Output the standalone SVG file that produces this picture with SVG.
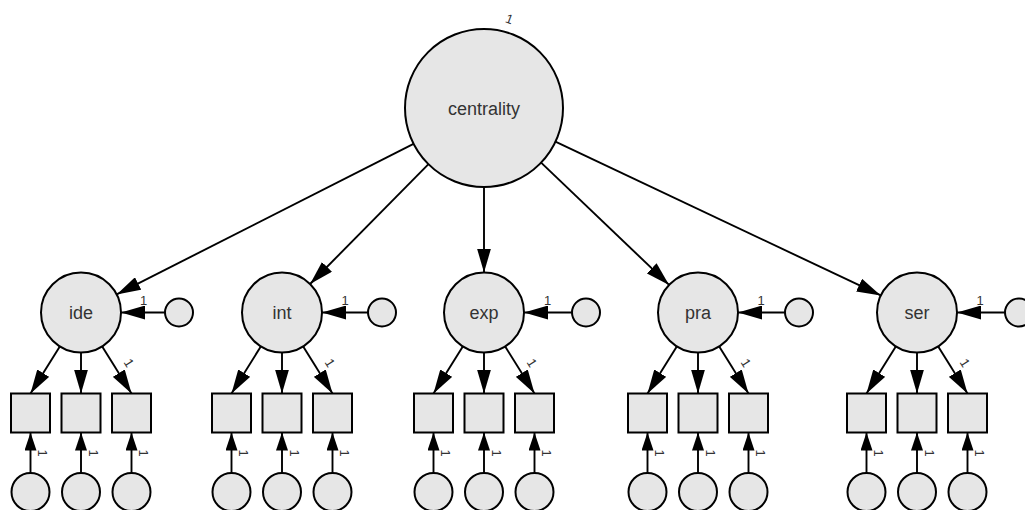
<svg xmlns="http://www.w3.org/2000/svg" width="1025" height="510" viewBox="0 0 1025 510">
<style>
.n{fill:#e6e6e6;stroke:#000;stroke-width:2}
.e{stroke:#000;stroke-width:1.9;fill:none}
.big{marker-end:url(#ah)}
.sm{marker-end:url(#as)}
.lbl{font-family:"Liberation Sans",Arial,sans-serif;font-size:18px;fill:#333;text-anchor:middle}
.one{font-family:"Liberation Sans",Arial,sans-serif;font-size:13px;fill:#333;text-anchor:middle}
</style>
<defs>
<marker id="ah" markerUnits="userSpaceOnUse" orient="auto" markerWidth="24" markerHeight="14" refX="24" refY="7" viewBox="0 0 24 14"><path d="M0,0 L24,7 L0,14 Z" fill="#000"/></marker>
<marker id="as" markerUnits="userSpaceOnUse" orient="auto" markerWidth="18" markerHeight="12" refX="18" refY="6" viewBox="0 0 18 12"><path d="M0,0 L18,6 L0,12 Z" fill="#000"/></marker>
</defs>
<rect width="1025" height="510" fill="#fff"/>
<g id="connectors">
<line class="e big" x1="413.5" y1="143.8" x2="116.7" y2="294.4"/>
<line class="e big" x1="428.5" y1="164.2" x2="310.1" y2="284.0"/>
<line class="e big" x1="484" y1="187" x2="484" y2="272.5"/>
<line class="e big" x1="541.1" y1="162.6" x2="669.1" y2="284.9"/>
<line class="e big" x1="555.4" y1="141.7" x2="880.8" y2="295.4"/>
<line class="e big" x1="165" y1="312.5" x2="121" y2="312.5"/>
<line class="e big" x1="368" y1="312.5" x2="322" y2="312.5"/>
<line class="e big" x1="572" y1="312.5" x2="524" y2="312.5"/>
<line class="e big" x1="785" y1="312.5" x2="738" y2="312.5"/>
<line class="e big" x1="1005" y1="312.5" x2="957" y2="312.5"/>
<line class="e big" x1="59.8" y1="346.5" x2="30.5" y2="393.5"/>
<line class="e big" x1="81" y1="352.5" x2="81" y2="393.5"/>
<line class="e big" x1="102.2" y1="346.5" x2="131.5" y2="393.5"/>
<line class="e big" x1="260.8" y1="346.5" x2="231.5" y2="393.5"/>
<line class="e big" x1="282" y1="352.5" x2="282" y2="393.5"/>
<line class="e big" x1="303.2" y1="346.5" x2="332.5" y2="393.5"/>
<line class="e big" x1="462.8" y1="346.5" x2="433.5" y2="393.5"/>
<line class="e big" x1="484" y1="352.5" x2="484" y2="393.5"/>
<line class="e big" x1="505.2" y1="346.5" x2="534.5" y2="393.5"/>
<line class="e big" x1="676.8" y1="346.5" x2="647.5" y2="393.5"/>
<line class="e big" x1="698" y1="352.5" x2="698" y2="393.5"/>
<line class="e big" x1="719.2" y1="346.5" x2="748.5" y2="393.5"/>
<line class="e big" x1="895.8" y1="346.5" x2="866.5" y2="393.5"/>
<line class="e big" x1="917" y1="352.5" x2="917" y2="393.5"/>
<line class="e big" x1="938.2" y1="346.5" x2="967.5" y2="393.5"/>
<line class="e sm" x1="30.5" y1="473" x2="30.5" y2="432.5"/>
<line class="e sm" x1="81" y1="473" x2="81" y2="432.5"/>
<line class="e sm" x1="131.5" y1="473" x2="131.5" y2="432.5"/>
<line class="e sm" x1="231.5" y1="473" x2="231.5" y2="432.5"/>
<line class="e sm" x1="282" y1="473" x2="282" y2="432.5"/>
<line class="e sm" x1="332.5" y1="473" x2="332.5" y2="432.5"/>
<line class="e sm" x1="433.5" y1="473" x2="433.5" y2="432.5"/>
<line class="e sm" x1="484" y1="473" x2="484" y2="432.5"/>
<line class="e sm" x1="534.5" y1="473" x2="534.5" y2="432.5"/>
<line class="e sm" x1="647.5" y1="473" x2="647.5" y2="432.5"/>
<line class="e sm" x1="698" y1="473" x2="698" y2="432.5"/>
<line class="e sm" x1="748.5" y1="473" x2="748.5" y2="432.5"/>
<line class="e sm" x1="866.5" y1="473" x2="866.5" y2="432.5"/>
<line class="e sm" x1="917" y1="473" x2="917" y2="432.5"/>
<line class="e sm" x1="967.5" y1="473" x2="967.5" y2="432.5"/>
<text class="one" transform="translate(509.5,19) rotate(20)" y="4.5">1</text>
<text class="one" x="143.5" y="305">1</text>
<text class="one" x="345" y="305">1</text>
<text class="one" x="547.5" y="305">1</text>
<text class="one" x="761" y="305">1</text>
<text class="one" x="980" y="305">1</text>
<text class="one" transform="translate(129,363) rotate(58)" y="4.5">1</text>
<text class="one" transform="translate(330,363) rotate(58)" y="4.5">1</text>
<text class="one" transform="translate(532,363) rotate(58)" y="4.5">1</text>
<text class="one" transform="translate(746,363) rotate(58)" y="4.5">1</text>
<text class="one" transform="translate(965,363) rotate(58)" y="4.5">1</text>
<text class="one" transform="translate(42.5,453) rotate(90)" y="4.5">1</text>
<text class="one" transform="translate(93,453) rotate(90)" y="4.5">1</text>
<text class="one" transform="translate(143.5,453) rotate(90)" y="4.5">1</text>
<text class="one" transform="translate(243.5,453) rotate(90)" y="4.5">1</text>
<text class="one" transform="translate(294,453) rotate(90)" y="4.5">1</text>
<text class="one" transform="translate(344.5,453) rotate(90)" y="4.5">1</text>
<text class="one" transform="translate(445.5,453) rotate(90)" y="4.5">1</text>
<text class="one" transform="translate(496,453) rotate(90)" y="4.5">1</text>
<text class="one" transform="translate(546.5,453) rotate(90)" y="4.5">1</text>
<text class="one" transform="translate(659.5,453) rotate(90)" y="4.5">1</text>
<text class="one" transform="translate(710,453) rotate(90)" y="4.5">1</text>
<text class="one" transform="translate(760.5,453) rotate(90)" y="4.5">1</text>
<text class="one" transform="translate(878.5,453) rotate(90)" y="4.5">1</text>
<text class="one" transform="translate(929,453) rotate(90)" y="4.5">1</text>
<text class="one" transform="translate(979.5,453) rotate(90)" y="4.5">1</text>
</g>
<g id="centrality"><circle class="n" cx="484" cy="108" r="79"/><text class="lbl" x="484" y="114.5">centrality</text></g>
<g id="ide"><circle class="n" cx="81" cy="312.5" r="40"/><text class="lbl" x="81" y="319">ide</text></g>
<g id="int"><circle class="n" cx="282" cy="312.5" r="40"/><text class="lbl" x="282" y="319">int</text></g>
<g id="exp"><circle class="n" cx="484" cy="312.5" r="40"/><text class="lbl" x="484" y="319">exp</text></g>
<g id="pra"><circle class="n" cx="698" cy="312.5" r="40"/><text class="lbl" x="698" y="319">pra</text></g>
<g id="ser"><circle class="n" cx="917" cy="312.5" r="40"/><text class="lbl" x="917" y="319">ser</text></g>
<g id="ide_err"><circle class="n" cx="179" cy="312.5" r="14"/></g>
<g id="int_err"><circle class="n" cx="382" cy="312.5" r="14"/></g>
<g id="exp_err"><circle class="n" cx="586" cy="312.5" r="14"/></g>
<g id="pra_err"><circle class="n" cx="799" cy="312.5" r="14"/></g>
<g id="ser_err"><circle class="n" cx="1019" cy="312.5" r="14"/></g>
<g id="ide1"><rect class="n" x="11" y="393.5" width="39" height="39"/></g>
<g id="ide2"><rect class="n" x="61.5" y="393.5" width="39" height="39"/></g>
<g id="ide3"><rect class="n" x="112" y="393.5" width="39" height="39"/></g>
<g id="int1"><rect class="n" x="212" y="393.5" width="39" height="39"/></g>
<g id="int2"><rect class="n" x="262.5" y="393.5" width="39" height="39"/></g>
<g id="int3"><rect class="n" x="313" y="393.5" width="39" height="39"/></g>
<g id="exp1"><rect class="n" x="414" y="393.5" width="39" height="39"/></g>
<g id="exp2"><rect class="n" x="464.5" y="393.5" width="39" height="39"/></g>
<g id="exp3"><rect class="n" x="515" y="393.5" width="39" height="39"/></g>
<g id="pra1"><rect class="n" x="628" y="393.5" width="39" height="39"/></g>
<g id="pra2"><rect class="n" x="678.5" y="393.5" width="39" height="39"/></g>
<g id="pra3"><rect class="n" x="729" y="393.5" width="39" height="39"/></g>
<g id="ser1"><rect class="n" x="847" y="393.5" width="39" height="39"/></g>
<g id="ser2"><rect class="n" x="897.5" y="393.5" width="39" height="39"/></g>
<g id="ser3"><rect class="n" x="948" y="393.5" width="39" height="39"/></g>
<g id="ide1_err"><circle class="n" cx="30.5" cy="492" r="19"/></g>
<g id="ide2_err"><circle class="n" cx="81" cy="492" r="19"/></g>
<g id="ide3_err"><circle class="n" cx="131.5" cy="492" r="19"/></g>
<g id="int1_err"><circle class="n" cx="231.5" cy="492" r="19"/></g>
<g id="int2_err"><circle class="n" cx="282" cy="492" r="19"/></g>
<g id="int3_err"><circle class="n" cx="332.5" cy="492" r="19"/></g>
<g id="exp1_err"><circle class="n" cx="433.5" cy="492" r="19"/></g>
<g id="exp2_err"><circle class="n" cx="484" cy="492" r="19"/></g>
<g id="exp3_err"><circle class="n" cx="534.5" cy="492" r="19"/></g>
<g id="pra1_err"><circle class="n" cx="647.5" cy="492" r="19"/></g>
<g id="pra2_err"><circle class="n" cx="698" cy="492" r="19"/></g>
<g id="pra3_err"><circle class="n" cx="748.5" cy="492" r="19"/></g>
<g id="ser1_err"><circle class="n" cx="866.5" cy="492" r="19"/></g>
<g id="ser2_err"><circle class="n" cx="917" cy="492" r="19"/></g>
<g id="ser3_err"><circle class="n" cx="967.5" cy="492" r="19"/></g>
</svg>
